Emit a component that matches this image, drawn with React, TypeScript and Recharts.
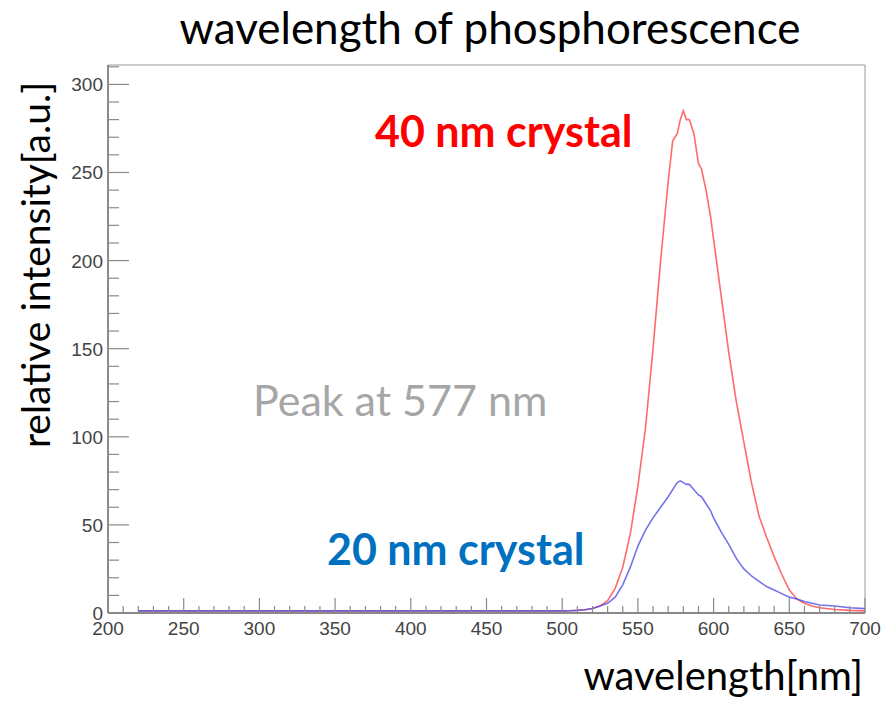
import { LineChart, Line, XAxis, YAxis, ReferenceArea } from "recharts";

// wavelength in nm
const wavelengths = [
  220, 230, 240, 250, 260, 270, 280, 290, 300, 310, 320, 330, 340, 350, 360, 370, 380, 390, 400,
  410, 420, 430, 440, 450, 460, 470, 480, 490, 500, 505, 510, 515, 520, 525, 530, 535, 540, 545,
  550, 555, 560, 565, 570, 573, 576, 578, 580, 582, 584, 587, 590, 592, 595, 598, 600, 605, 610,
  615, 620, 625, 630, 635, 640, 645, 650, 655, 660, 665, 670, 680, 690, 700,
];

// 40 nm crystal
const crystal40 = [
  1.2, 1.2, 1.2, 1.2, 1.2, 1.2, 1.2, 1.2, 1.2, 1.2, 1.2, 1.2, 1.2, 1.2, 1.2, 1.2, 1.2, 1.2, 1.2,
  1.2, 1.2, 1.2, 1.2, 1.2, 1.2, 1.2, 1.2, 1.2, 1.2, 1.3, 1.5, 1.8, 2.5, 4, 7, 14, 26, 45,
  72, 105, 150, 200, 245, 268, 272, 280, 285, 280, 280, 272, 255, 252, 240, 225, 212, 180, 148,
  120, 97, 74, 55, 43, 32, 22, 13, 8, 5.5, 4, 3, 2, 1.5, 1.2,
];

// 20 nm crystal
const crystal20 = [
  1.2, 1.2, 1.2, 1.2, 1.2, 1.2, 1.2, 1.2, 1.2, 1.2, 1.2, 1.2, 1.2, 1.2, 1.2, 1.2, 1.2, 1.2, 1.2,
  1.2, 1.2, 1.2, 1.2, 1.2, 1.2, 1.2, 1.2, 1.2, 1.2, 1.3, 1.5, 1.8, 2.5, 4, 5.5, 9, 16, 26,
  38, 47, 54, 60, 66, 70, 74, 75, 74, 73, 73, 70, 67, 66, 62, 58, 54, 46, 39,
  31, 25, 21, 18, 15, 13, 11, 9, 8, 6.5, 5.5, 4.5, 4, 3, 2.5,
];

const xMajor = [200, 250, 300, 350, 400, 450, 500, 550, 600, 650, 700];
const yMajor = [0, 50, 100, 150, 200, 250, 300];

const xTicks: number[] = [];
for (let v = 200; v <= 700; v += 10) xTicks.push(v);
const yTicks: number[] = [];
for (let v = 0; v <= 310; v += 10) yTicks.push(v);

const data = wavelengths.map((w, i) => ({ w, c40: crystal40[i], c20: crystal20[i] }));

const axisGray = "#8a8a8a";
const labelGray = "#444";
const textFont = "Lato, 'Open Sans', sans-serif";

function XTick(props: any) {
  const { x, y, payload } = props;
  const major = xMajor.includes(payload.value);
  return (
    <g>
      <line x1={x} x2={x} y1={y} y2={y - (major ? 15 : 7)} stroke={axisGray} strokeWidth={1.2} />
      {major && (
        <text x={x} y={y + 22} textAnchor="middle" fill={labelGray} fontSize={19} fontFamily="'Liberation Sans', Arial">
          {payload.value}
        </text>
      )}
    </g>
  );
}

function YTick(props: any) {
  const { x, y, payload } = props;
  const major = yMajor.includes(payload.value);
  return (
    <g>
      <line x1={x} x2={x + (major ? 21 : 11)} y1={y} y2={y} stroke={axisGray} strokeWidth={1.2} />
      {major && (
        <text x={x - 5} y={y + 7} textAnchor="end" fill={labelGray} fontSize={19} fontFamily="'Liberation Sans', Arial">
          {payload.value}
        </text>
      )}
    </g>
  );
}

export default function App() {
  return (
    <div style={{ position: "absolute", left: 0, top: 0, width: 885, height: 707, background: "#fff" }}>
      <LineChart width={885} height={707} data={data} margin={{ top: 65, right: 20, bottom: 0, left: 0 }}>
        <ReferenceArea x1={200} x2={700} y1={0} y2={311} fill="none" stroke="#999" strokeWidth={1} ifOverflow="visible" />
        <XAxis
          dataKey="w"
          type="number"
          domain={[200, 700]}
          ticks={xTicks}
          interval={0}
          height={94}
          tickSize={0}
          tickMargin={0}
          tick={<XTick />}
          axisLine={{ stroke: axisGray, strokeWidth: 2 }}
          tickLine={false}
        />
        <YAxis
          type="number"
          domain={[0, 311]}
          ticks={yTicks}
          interval={0}
          width={108}
          tickSize={0}
          tickMargin={0}
          tick={<YTick />}
          axisLine={{ stroke: axisGray, strokeWidth: 2 }}
          tickLine={false}
        />
        <Line dataKey="c40" stroke="#ff5050" strokeOpacity={0.85} strokeWidth={1.6} dot={false} isAnimationActive={false} />
        <Line dataKey="c20" stroke="#5050e6" strokeOpacity={0.8} strokeWidth={1.6} dot={false} isAnimationActive={false} />
      </LineChart>
      <svg width={885} height={707} style={{ position: "absolute", left: 0, top: 0, pointerEvents: "none" }}>
        <text x={490} y={44} textAnchor="middle" fontSize={44} fontFamily={textFont} fill="#000">
          wavelength of phosphorescence
        </text>
        <text
          x={50}
          y={265}
          textAnchor="middle"
          fontSize={39}
          fontFamily={textFont}
          fill="#000"
          transform="rotate(-90 50 265)"
        >
          relative intensity[a.u.]
        </text>
        <text x={863} y={690} textAnchor="end" fontSize={40} fontFamily={textFont} fill="#000">
          wavelength[nm]
        </text>
        <text x={253} y={416} fontSize={43} fontFamily={textFont} fill="#a6a6a6">
          Peak at 577 nm
        </text>
        <text x={375} y={147} fontSize={43} fontWeight="bold" fontFamily={textFont} fill="#ff0000">
          40 nm crystal
        </text>
        <text x={327} y={565} fontSize={43} fontWeight="bold" fontFamily={textFont} fill="#0070c0">
          20 nm crystal
        </text>
      </svg>
    </div>
  );
}
